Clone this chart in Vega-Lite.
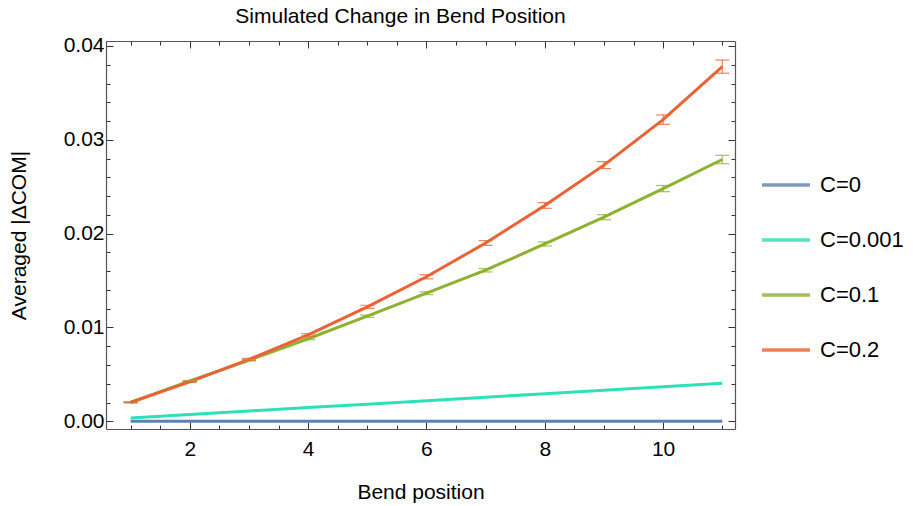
{
  "$schema": "https://vega.github.io/schema/vega-lite/v6.json",
  "autosize": {"type": "none"},
  "padding": {"left": 106, "top": 41, "right": 178, "bottom": 77},
  "width": 629,
  "height": 388,
  "background": "white",
  "config": {
    "font": "Liberation Sans",
    "view": {"stroke": null},
    "axis": {"grid": false, "labelOverlap": false, "domainColor": "#555555", "tickColor": "#333333", "labelColor": "black", "titleColor": "black", "labelFontSize": 21, "titleFontSize": 21, "titleFontWeight": "normal", "domainWidth": 1.2, "tickWidth": 1}
  },
  "title": {"text": "Simulated Change in Bend Position", "fontSize": 21, "fontWeight": "normal", "anchor": "middle", "frame": "group", "dx": -20, "offset": 8, "color": "black"},
  "data": {"values": [
    {"x": 1, "C": "C=0", "y": 0, "err": 0},
    {"x": 2, "C": "C=0", "y": 0, "err": 0},
    {"x": 3, "C": "C=0", "y": 0, "err": 0},
    {"x": 4, "C": "C=0", "y": 0, "err": 0},
    {"x": 5, "C": "C=0", "y": 0, "err": 0},
    {"x": 6, "C": "C=0", "y": 0, "err": 0},
    {"x": 7, "C": "C=0", "y": 0, "err": 0},
    {"x": 8, "C": "C=0", "y": 0, "err": 0},
    {"x": 9, "C": "C=0", "y": 0, "err": 0},
    {"x": 10, "C": "C=0", "y": 0, "err": 0},
    {"x": 11, "C": "C=0", "y": 0, "err": 0},
    {"x": 1, "C": "C=0.001", "y": 0.00035, "err": 0},
    {"x": 2, "C": "C=0.001", "y": 0.00072, "err": 0},
    {"x": 3, "C": "C=0.001", "y": 0.0011, "err": 0},
    {"x": 4, "C": "C=0.001", "y": 0.00146, "err": 0},
    {"x": 5, "C": "C=0.001", "y": 0.00183, "err": 0},
    {"x": 6, "C": "C=0.001", "y": 0.0022, "err": 0},
    {"x": 7, "C": "C=0.001", "y": 0.00257, "err": 0},
    {"x": 8, "C": "C=0.001", "y": 0.00294, "err": 0},
    {"x": 9, "C": "C=0.001", "y": 0.0033, "err": 0},
    {"x": 10, "C": "C=0.001", "y": 0.00368, "err": 0},
    {"x": 11, "C": "C=0.001", "y": 0.00405, "err": 0},
    {"x": 1, "C": "C=0.1", "y": 0.0020, "err": 0.00004},
    {"x": 2, "C": "C=0.1", "y": 0.0043, "err": 0.00005},
    {"x": 3, "C": "C=0.1", "y": 0.0065, "err": 0.00007},
    {"x": 4, "C": "C=0.1", "y": 0.0088, "err": 0.0001},
    {"x": 5, "C": "C=0.1", "y": 0.0112, "err": 0.00012},
    {"x": 6, "C": "C=0.1", "y": 0.01365, "err": 0.00015},
    {"x": 7, "C": "C=0.1", "y": 0.0161, "err": 0.00018},
    {"x": 8, "C": "C=0.1", "y": 0.0189, "err": 0.00022},
    {"x": 9, "C": "C=0.1", "y": 0.02175, "err": 0.00027},
    {"x": 10, "C": "C=0.1", "y": 0.0248, "err": 0.00033},
    {"x": 11, "C": "C=0.1", "y": 0.0279, "err": 0.00045},
    {"x": 1, "C": "C=0.2", "y": 0.00203, "err": 0.00004},
    {"x": 2, "C": "C=0.2", "y": 0.0042, "err": 0.00006},
    {"x": 3, "C": "C=0.2", "y": 0.0066, "err": 0.0001},
    {"x": 4, "C": "C=0.2", "y": 0.0092, "err": 0.00013},
    {"x": 5, "C": "C=0.2", "y": 0.0122, "err": 0.00017},
    {"x": 6, "C": "C=0.2", "y": 0.0154, "err": 0.00022},
    {"x": 7, "C": "C=0.2", "y": 0.0190, "err": 0.00025},
    {"x": 8, "C": "C=0.2", "y": 0.0230, "err": 0.0003},
    {"x": 9, "C": "C=0.2", "y": 0.0273, "err": 0.00037},
    {"x": 10, "C": "C=0.2", "y": 0.03215, "err": 0.0005},
    {"x": 11, "C": "C=0.2", "y": 0.0378, "err": 0.0007}
  ]},
  "layer": [
    {
      "mark": {"type": "line", "strokeWidth": 3, "clip": true},
      "encoding": {
        "x": {"field": "x", "type": "quantitative", "scale": {"domain": [0.584, 11.215], "nice": false, "zero": false},
          "axis": {"orient": "bottom", "title": "Bend position", "values": [1,1.5,2,2.5,3,3.5,4,4.5,5,5.5,6,6.5,7,7.5,8,8.5,9,9.5,10,10.5,11],
            "labelExpr": "datum.value % 2 === 0 ? format(datum.value, 'd') : ''",
            "labelFontSize": 21,
            "tickSize": {"condition": {"test": "datum.value % 2 === 0", "value": -7}, "value": -4},
            "labelPadding": 16, "titlePadding": 19}},
        "y": {"field": "y", "type": "quantitative", "scale": {"domain": [-0.00082, 0.04053], "nice": false, "zero": false},
          "axis": {"orient": "left", "title": "Averaged |ΔCOM|", "values": [0,0.002,0.004,0.006,0.008,0.01,0.012,0.014,0.016,0.018,0.02,0.022,0.024,0.026,0.028,0.03,0.032,0.034,0.036,0.038,0.04],
            "labelExpr": "round(datum.value*1000) % 10 === 0 ? format(datum.value, '.2f') : ''",
            "labelFontSize": 21,
            "tickSize": {"condition": {"test": "round(datum.value*1000) % 10 === 0", "value": -7}, "value": -4},
            "labelPadding": 9, "titlePadding": 34}},
        "color": {"field": "C", "type": "nominal", "title": null,
          "scale": {"domain": ["C=0", "C=0.001", "C=0.1", "C=0.2"], "range": ["#5E81B5", "#2DE1B7", "#8FB131", "#EB6235"]},
          "legend": {"orient": "none", "legendX": 654, "legendY": 118, "symbolType": "stroke", "symbolSize": 2304, "symbolStrokeWidth": 3.5, "rowPadding": 18, "labelFontSize": 22, "labelOffset": 8, "labelColor": "black", "padding": 0}}
      }
    },
    {
      "transform": [{"filter": "datum.err > 0"}],
      "mark": {"type": "errorbar", "ticks": {"size": 14, "opacity": 0.8}, "rule": {"opacity": 0.8}, "thickness": 1.2, "clip": true},
      "encoding": {
        "x": {"field": "x", "type": "quantitative", "scale": {"domain": [0.584, 11.215], "nice": false, "zero": false},
          "axis": {"orient": "top", "title": null, "values": [1,1.5,2,2.5,3,3.5,4,4.5,5,5.5,6,6.5,7,7.5,8,8.5,9,9.5,10,10.5,11],
            "labels": false,
            "tickSize": {"condition": {"test": "datum.value % 2 === 0", "value": -7}, "value": -4}}},
        "y": {"field": "y", "type": "quantitative", "scale": {"domain": [-0.00082, 0.04053], "nice": false, "zero": false},
          "axis": {"orient": "right", "title": null, "values": [0,0.002,0.004,0.006,0.008,0.01,0.012,0.014,0.016,0.018,0.02,0.022,0.024,0.026,0.028,0.03,0.032,0.034,0.036,0.038,0.04],
            "labels": false,
            "tickSize": {"condition": {"test": "round(datum.value*1000) % 10 === 0", "value": -7}, "value": -4}}},
        "yError": {"field": "err"},
        "color": {"field": "C", "type": "nominal"}
      }
    }
  ],
  "resolve": {"scale": {"x": "independent", "y": "independent"}, "axis": {"x": "independent", "y": "independent"}}
}
